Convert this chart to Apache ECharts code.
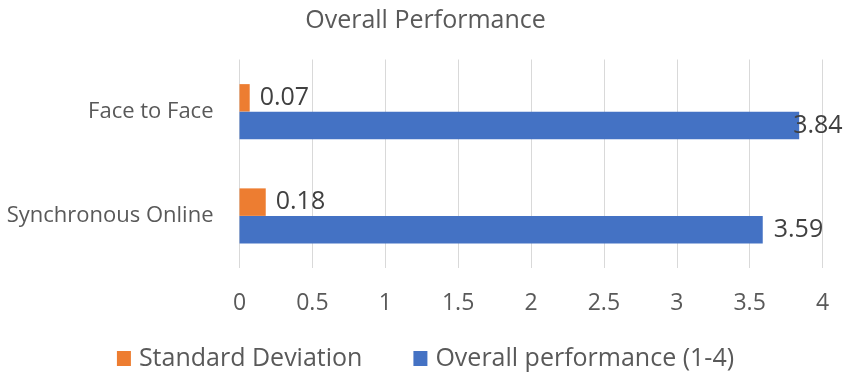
<!DOCTYPE html>
<html>
<head>
<meta charset="utf-8">
<script src="https://cdn.jsdelivr.net/npm/echarts@6/dist/echarts.min.js"></script>
<style>
html,body{margin:0;padding:0;background:#fff;}
#chart{width:851px;height:379px;}
</style>
</head>
<body>
<div id="chart"></div>
<script>
const categories = ['Synchronous Online', 'Face to Face'];
const stdDev = [0.18, 0.07];
const overall = [3.59, 3.84];
const seriesNames = ['Standard Deviation', 'Overall performance (1-4)'];
const xTicks = [0, 0.5, 1, 1.5, 2, 2.5, 3, 3.5, 4];

const FONT = 'Open Sans';
const chart = echarts.init(document.getElementById('chart'), null, {renderer: 'canvas'});
const overallData = overall.map(function (v) {
  if (v > 3.7) {
    return {value: v, label: {offset: [-17, 0]}};
  }
  return v;
});
chart.setOption({
  animation: false,
  textStyle: {fontFamily: FONT},
  title: {
    text: 'Overall Performance',
    left: 'center',
    top: 3,
    textStyle: {fontFamily: FONT, fontSize: 25, fontWeight: 'normal', color: '#595959'}
  },
  legend: {
    data: seriesNames,
    bottom: 3,
    left: 'center',
    icon: 'rect',
    itemWidth: 14,
    itemHeight: 15,
    itemGap: 51,
    textStyle: {fontFamily: FONT, fontSize: 25, color: '#595959', padding: [0, 0, 0, 3]}
  },
  grid: {left: 239.5, right: 28.5, top: 59.5, bottom: 111, containLabel: false},
  xAxis: {
    type: 'value',
    min: xTicks[0],
    max: xTicks[xTicks.length - 1],
    interval: 0.5,
    axisLine: {show: false},
    axisTick: {show: false},
    splitLine: {show: true, lineStyle: {color: '#D9D9D9', width: 1}},
    axisLabel: {fontFamily: FONT, fontSize: 23, color: '#595959', margin: 24}
  },
  yAxis: {
    type: 'category',
    data: categories,
    axisLine: {show: false},
    axisTick: {show: false},
    axisLabel: {fontFamily: FONT, fontSize: 22, color: '#595959', margin: 26}
  },
  series: [
    {
      name: seriesNames[0],
      type: 'bar',
      data: stdDev,
      barWidth: 27.5,
      barGap: '0%',
      itemStyle: {color: '#ED7D31'},
      label: {show: true, position: 'right', distance: 10, fontFamily: FONT, fontSize: 25, color: '#404040'}
    },
    {
      name: seriesNames[1],
      type: 'bar',
      data: overallData,
      barWidth: 27.5,
      barGap: '0%',
      itemStyle: {color: '#4472C4'},
      label: {show: true, position: 'right', distance: 11, fontFamily: FONT, fontSize: 25, color: '#404040'}
    }
  ]
});
</script>
</body>
</html>
